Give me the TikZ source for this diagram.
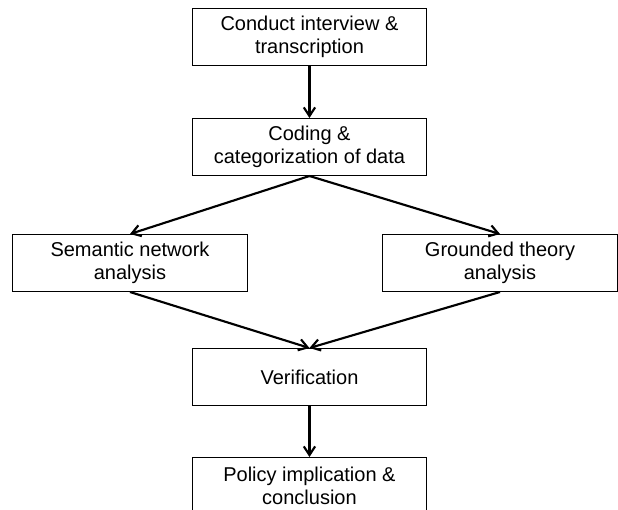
\documentclass[tikz,border=0pt]{standalone}
\usepackage{fontspec}
\setmainfont{Liberation Sans}
\usetikzlibrary{arrows.meta, positioning}
\tikzset{
  stage/.style={rectangle, minimum width=176pt, minimum height=42.75pt, align=center, draw=black, line width=0.75pt, inner sep=0pt, font=\fontsize{15}{17.3}\selectfont},
  arrow/.style={line width=1.6pt,-{Straight Barb[length=6.5pt,width=8.5pt]}}
}

\begin{document}
\begin{tikzpicture}[node distance=39pt]
    \useasboundingbox (0,0) rectangle (463.5pt,-382.5pt);
    \clip (0,0) rectangle (463.5pt,-382.5pt);

    \node (interview) [stage] at (232.1pt,-27.75pt) {Conduct interview \&\\transcription};
    \node (coding) [stage, below=of interview] {Coding \&\\categorization of data};
    \node (semantic) [stage, below=43.5pt of coding, xshift=-134.6pt] {Semantic network\\analysis};
    \node (grounded) [stage, below=43.5pt of coding, xshift=142.9pt] {Grounded theory\\analysis};
    \node (verify) [stage, below=129pt of coding] {Verification};
    \node (policy) [stage, below=38.25pt of verify] {Policy implication \&\\conclusion};

    % main column
    \draw[arrow] (interview) -- (coding);
    \draw[arrow] (verify) -- (policy);

    % split into the two analyses and join again
    \draw[arrow] (coding.south) -- (semantic.north);
    \draw[arrow] (coding.south) -- (grounded.north);
    \draw[arrow] (semantic.south) -- (verify.north);
    \draw[arrow] (grounded.south) -- (verify.north);
\end{tikzpicture}
\end{document}
